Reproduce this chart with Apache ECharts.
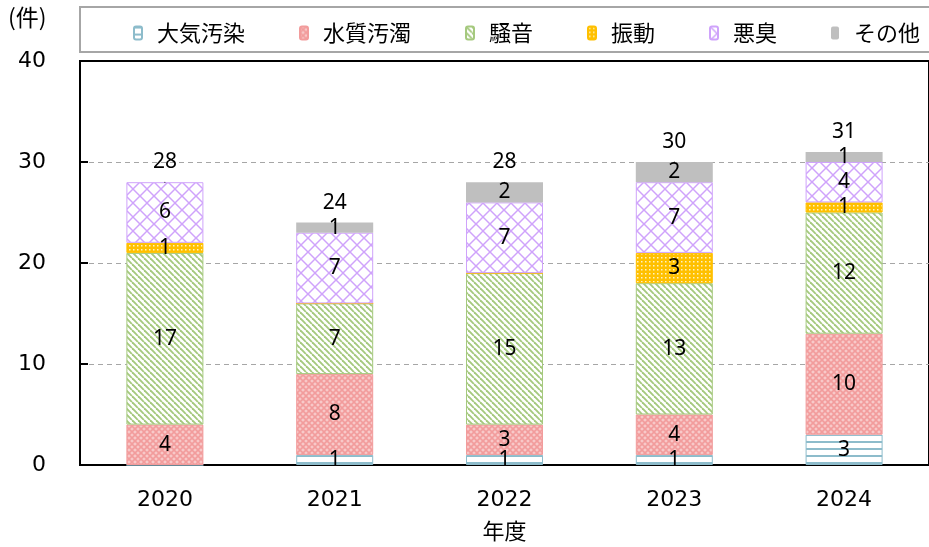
<!DOCTYPE html>
<html>
<head>
<meta charset="utf-8">
<script src="https://cdn.jsdelivr.net/npm/echarts@6/dist/echarts.min.js"></script>
<style>
  html, body { margin: 0; padding: 0; background: #fff; }
  #chart { width: 929px; height: 547px; }
</style>
</head>
<body>
<div id="chart"></div>
<script>
// 年度
const years = ['2020', '2021', '2022', '2023', '2024'];
// 種類別件数
const air = [0, 1, 1, 1, 3];        // 大気汚染
const water = [4, 8, 3, 4, 10];     // 水質汚濁
const noise = [17, 7, 15, 13, 12];  // 騒音
const vibration = [1, 0, 0, 3, 1];  // 振動
const odor = [6, 7, 7, 7, 4];       // 悪臭
const other = [0, 1, 2, 2, 1];      // その他
const totals = [28, 24, 28, 30, 31];
const yTicks = [0, 10, 20, 30, 40];

// 模様タイルを作る
function makePattern(w, h, draw) {
  const c = document.createElement('canvas');
  c.width = w;
  c.height = h;
  const ctx = c.getContext('2d');
  ctx.fillStyle = '#fff';
  ctx.fillRect(0, 0, w, h);
  draw(ctx, w, h);
  return { image: c, repeat: 'repeat' };
}

const patAir = makePattern(7, 7, (ctx, w) => {
  ctx.fillStyle = '#8dbccb';
  ctx.fillRect(0, 0, w, 2);
});
const patWater = makePattern(6, 6, (ctx, w, h) => {
  ctx.strokeStyle = '#f29c9c';
  ctx.lineWidth = 1.6;
  [-w, 0, w].forEach(x0 => {
    ctx.beginPath(); ctx.moveTo(x0, 0); ctx.lineTo(x0 + w, h); ctx.stroke();
    ctx.beginPath(); ctx.moveTo(x0 + w, 0); ctx.lineTo(x0, h); ctx.stroke();
  });
  ctx.fillStyle = 'rgba(242,156,156,0.55)';
  ctx.fillRect(0, 0, w, h);
});
const patNoise = makePattern(6, 6, (ctx, w, h) => {
  ctx.strokeStyle = '#a5c97e';
  ctx.lineWidth = 1.9;
  [-w, 0, w].forEach(x0 => {
    ctx.beginPath();
    ctx.moveTo(x0, 0);
    ctx.lineTo(x0 + w, h);
    ctx.stroke();
  });
});
const patVibration = makePattern(4, 4, (ctx, w, h) => {
  ctx.fillStyle = '#ffc000';
  ctx.fillRect(0, 0, w, h);
  ctx.fillStyle = '#fff3c4';
  ctx.fillRect(1, 1, 1.5, 1.5);
});
const patOdor = makePattern(14, 14, (ctx, w, h) => {
  ctx.strokeStyle = '#cfa3fb';
  ctx.lineWidth = 1.5;
  [-w, 0, w].forEach(x0 => {
    ctx.beginPath(); ctx.moveTo(x0, 0); ctx.lineTo(x0 + w, h); ctx.stroke();
    ctx.beginPath(); ctx.moveTo(x0 + w, 0); ctx.lineTo(x0, h); ctx.stroke();
  });
});

const labelFont = { fontFamily: 'Noto Sans', fontSize: 21, color: '#000' };

function stackBar(name, data, fill, border) {
  return {
    name: name,
    type: 'bar',
    stack: 'total',
    barWidth: 77,
    data: data,
    itemStyle: { color: fill, borderColor: border, borderWidth: border ? 1 : 0 },
    label: Object.assign({
      show: true,
      position: 'inside',
      formatter: p => (p.value > 0 ? p.value : '')
    }, labelFont),
    emphasis: { disabled: true }
  };
}

const chart = echarts.init(document.getElementById('chart'));
chart.setOption({
  animation: false,
  backgroundColor: '#fff',
  grid: {
    left: 80, right: -9, top: 61, bottom: 82,
    show: true, borderColor: '#000', borderWidth: 2
  },
  graphic: [
    {
      type: 'rect',
      shape: { x: 80, y: 7, width: 860, height: 45 },
      style: { fill: 'none', stroke: '#a6a6a6', lineWidth: 2 }
    },
    {
      type: 'text',
      left: 8, top: 6,
      style: { text: '(件)', fontFamily: 'Noto Sans CJK JP', fontSize: 23, fill: '#000' }
    }
  ],
  legend: {
    data: ['大気汚染', '水質汚濁', '騒音', '振動', '悪臭', 'その他'],
    left: 128, top: 17,
    itemWidth: 8, itemHeight: 13, itemGap: 54,
    textStyle: { fontFamily: 'Noto Sans CJK JP', fontSize: 22, color: '#000', padding: [0, 0, 0, 10] }
  },
  xAxis: {
    type: 'category',
    data: years,
    name: '年度',
    nameLocation: 'middle',
    nameGap: 55,
    nameTextStyle: { fontFamily: 'Noto Sans CJK JP', fontSize: 22, color: '#000' },
    axisLine: { lineStyle: { color: '#000', width: 2 } },
    axisTick: { inside: true, length: 8, lineStyle: { color: '#000', width: 2 } },
    axisLabel: { fontFamily: 'DejaVu Sans', fontSize: 22, color: '#000', margin: 24 }
  },
  yAxis: {
    type: 'value',
    min: yTicks[0], max: yTicks[yTicks.length - 1], interval: 10,
    axisLine: { show: true, lineStyle: { color: '#000', width: 2 } },
    axisTick: { show: true, inside: true, length: 8, lineStyle: { color: '#000', width: 2 } },
    axisLabel: { fontFamily: 'DejaVu Sans', fontSize: 22, color: '#000', margin: 34 },
    splitLine: { showMaxLine: false, lineStyle: { color: '#a6a6a6', width: 1, type: [5, 4] } }
  },
  series: [
    stackBar('大気汚染', air, patAir, '#8dbccb'),
    stackBar('水質汚濁', water, patWater, '#f29c9c'),
    stackBar('騒音', noise, patNoise, '#a5c97e'),
    stackBar('振動', vibration, patVibration, '#ffc000'),
    stackBar('悪臭', odor, patOdor, '#cfa3fb'),
    stackBar('その他', other, '#bfbfbf', null),
    {
      name: '合計',
      type: 'scatter',
      data: totals,
      symbolSize: 1,
      itemStyle: { color: '#000', opacity: 1 },
      label: Object.assign({ show: true, position: 'top', distance: 9, opacity: 1 }, labelFont),
      emphasis: { disabled: true }
    }
  ]
});
</script>
</body>
</html>
